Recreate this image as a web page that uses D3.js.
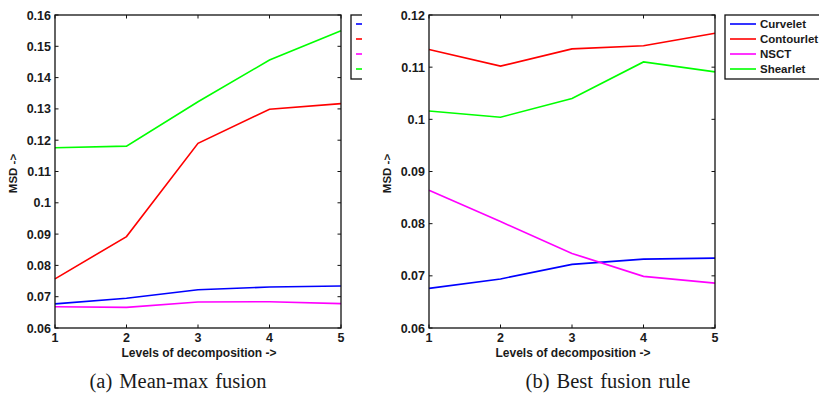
<!DOCTYPE html>
<html>
<head>
<meta charset="utf-8">
<script src="https://cdn.jsdelivr.net/npm/d3@7"></script>
<style>
	body { margin: 0; background: white; }
	svg { display: block; }
	.tick-label, .axis-title, .legend-text { font-family: 'Liberation Sans', Arial, sans-serif; font-weight: bold; fill: #1a1a1a; }
	.caption { font-family: 'Liberation Serif', 'Times New Roman', serif; fill: #1a1a1a; }
</style>
</head>
<body>
<svg id="fig" width="819" height="394"></svg>
<script>
const levels = [1, 2, 3, 4, 5];
const seriesNames = ['Curvelet', 'Contourlet', 'NSCT', 'Shearlet'];
const seriesColors = ['#0000ff', '#ff0000', '#ff00ff', '#00ff00'];

// (a) Mean-max fusion
const meanMaxCurvelet = [0.0677, 0.0695, 0.0722, 0.0731, 0.0734];
const meanMaxContourlet = [0.0757, 0.0892, 0.1190, 0.1299, 0.1317];
const meanMaxNSCT = [0.0668, 0.0666, 0.0683, 0.0684, 0.0678];
const meanMaxShearlet = [0.1176, 0.1181, 0.1323, 0.1456, 0.1550];
const meanMaxTicks = [0.06, 0.07, 0.08, 0.09, 0.1, 0.11, 0.12, 0.13, 0.14, 0.15, 0.16];

// (b) Best fusion rule
const bestCurvelet = [0.0676, 0.0694, 0.0722, 0.0732, 0.0734];
const bestContourlet = [0.1134, 0.1102, 0.1135, 0.1141, 0.1165];
const bestNSCT = [0.0864, 0.0804, 0.0743, 0.0699, 0.0686];
const bestShearlet = [0.1016, 0.1004, 0.1040, 0.1110, 0.1091];
const bestTicks = [0.06, 0.07, 0.08, 0.09, 0.1, 0.11, 0.12];

const svg = d3.select('#fig');

function drawPanel(opts) {
	const { left, right, top, bottom, ticks, series, clipRight, showLegendText, caption, captionX, id } = opts;
	const g = svg.append('g');
	if (clipRight) {
		// the left figure is cropped through its legend
		svg.append('defs').append('clipPath')
			.attr('id', id + 'Clip')
			.append('rect')
			.attr('x', 0).attr('y', 0)
			.attr('width', clipRight).attr('height', 394);
		g.attr('clip-path', `url(#${id}Clip)`);
	}

	const x = d3.scaleLinear().domain([1, 5]).range([left, right]);
	const y = d3.scaleLinear().domain([ticks[0], ticks[ticks.length - 1]]).range([bottom, top]);

	const line = d3.line()
		.x((d, i) => x(levels[i]))
		.y((d) => y(d));

	series.forEach((values, i) => {
		g.append('path')
			.datum(values)
			.attr('d', line)
			.attr('fill', 'none')
			.attr('stroke', seriesColors[i])
			.attr('stroke-width', 1.6);
	});

	// box
	g.append('rect')
		.attr('x', left).attr('y', top)
		.attr('width', right - left).attr('height', bottom - top)
		.attr('fill', 'none')
		.attr('stroke', '#111')
		.attr('stroke-width', 1.3);

	// inward ticks on all four sides
	const tl = 3.5;
	for (const t of ticks) {
		g.append('line').attr('x1', left).attr('x2', left + tl).attr('y1', y(t)).attr('y2', y(t)).attr('stroke', '#111');
		g.append('line').attr('x1', right).attr('x2', right - tl).attr('y1', y(t)).attr('y2', y(t)).attr('stroke', '#111');
		g.append('text')
			.attr('class', 'tick-label')
			.attr('x', left - 4).attr('y', y(t))
			.attr('text-anchor', 'end')
			.attr('dy', '0.36em')
			.attr('font-size', 12.5)
			.text(+t.toFixed(2));
	}
	for (const l of levels) {
		g.append('line').attr('x1', x(l)).attr('x2', x(l)).attr('y1', bottom).attr('y2', bottom - tl).attr('stroke', '#111');
		g.append('line').attr('x1', x(l)).attr('x2', x(l)).attr('y1', top).attr('y2', top + tl).attr('stroke', '#111');
		g.append('text')
			.attr('class', 'tick-label')
			.attr('x', x(l)).attr('y', bottom + 14)
			.attr('text-anchor', 'middle')
			.attr('font-size', 12.5)
			.text(l);
	}

	g.append('text')
		.attr('class', 'axis-title')
		.attr('x', (left + right) / 2 + 1).attr('y', bottom + 29)
		.attr('text-anchor', 'middle')
		.attr('font-size', 12)
		.text('Levels of decomposition ->');
	g.append('text')
		.attr('class', 'axis-title')
		.attr('transform', `translate(${left - 38},${(top + bottom) / 2 + 2}) rotate(-90)`)
		.attr('text-anchor', 'middle')
		.attr('font-size', 11.5)
		.text('MSD ->');

	// legend
	const lx = right + 10;
	const legend = g.append('g');
	legend.append('rect')
		.attr('x', lx).attr('y', top)
		.attr('width', 110).attr('height', 64)
		.attr('fill', 'white')
		.attr('stroke', '#111')
		.attr('stroke-width', 1.3);
	seriesNames.forEach((name, i) => {
		const ly = top + 9 + i * 15;
		legend.append('line')
			.attr('x1', lx + 5).attr('x2', lx + 31)
			.attr('y1', ly).attr('y2', ly)
			.attr('stroke', seriesColors[i])
			.attr('stroke-width', 1.6);
		if (showLegendText) {
			legend.append('text')
				.attr('class', 'legend-text')
				.attr('x', lx + 35).attr('y', ly)
				.attr('dy', '0.36em')
				.attr('font-size', 11.5)
				.text(name);
		}
	});

	svg.append('text')
		.attr('class', 'caption')
		.attr('x', captionX).attr('y', 388)
		.attr('text-anchor', 'middle')
		.attr('font-size', 20.5)
		.attr('word-spacing', 2)
		.text(caption);
}

drawPanel({
	id: 'a', left: 55, right: 341, top: 15, bottom: 328,
	ticks: meanMaxTicks,
	series: [meanMaxCurvelet, meanMaxContourlet, meanMaxNSCT, meanMaxShearlet],
	clipRight: 362, showLegendText: false,
	caption: '(a) Mean-max fusion', captionX: 178,
});
drawPanel({
	id: 'b', left: 429, right: 715, top: 15, bottom: 328,
	ticks: bestTicks,
	series: [bestCurvelet, bestContourlet, bestNSCT, bestShearlet],
	clipRight: null, showLegendText: true,
	caption: '(b) Best fusion rule', captionX: 608,
});
</script>
</body>
</html>
